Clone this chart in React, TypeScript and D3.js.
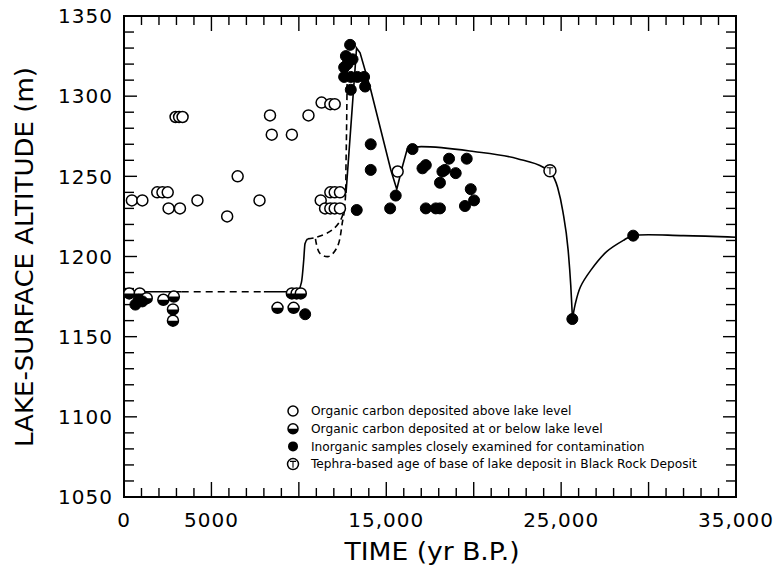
import React from "react";
import * as d3 from "d3";

// ---------- data ----------
type P = [number, number];

const openPts: P[] = [
  [450, 1235], [1050, 1235],
  [1900, 1240], [2200, 1240], [2500, 1240],
  [2550, 1230], [3200, 1230],
  [2950, 1287], [3150, 1287], [3350, 1287],
  [4200, 1235], [5900, 1225], [6500, 1250], [7750, 1235],
  [8350, 1288], [8450, 1276], [9600, 1276], [10550, 1288],
  [11300, 1296], [11800, 1295], [12050, 1295],
  [11250, 1235],
  [11800, 1240], [12050, 1240], [12350, 1240],
  [11500, 1230], [11800, 1230], [12050, 1230], [12350, 1230],
  [15650, 1253],
];

const halfPts: P[] = [
  [300, 1177], [900, 1177], [1300, 1174],
  [2250, 1173], [2850, 1175], [2800, 1167], [2800, 1160],
  [9600, 1177], [9870, 1177], [10110, 1177],
  [8780, 1168], [9700, 1168],
];

const filledPts: P[] = [
  [650, 1170], [850, 1173], [1050, 1172],
  [10360, 1164],
  [12930, 1332], [12690, 1325], [12780, 1320], [12590, 1318], [13070, 1323],
  [12590, 1312], [12970, 1312], [13350, 1312], [13730, 1312],
  [12970, 1304], [13790, 1306],
  [14110, 1270], [14110, 1254], [13310, 1229],
  [15220, 1230], [15540, 1238], [16500, 1267],
  [17070, 1255], [17260, 1257], [18590, 1261], [19600, 1261],
  [18210, 1253], [18350, 1254], [18970, 1252], [18070, 1246],
  [19830, 1242], [20020, 1235], [19500, 1231.5],
  [17260, 1230], [17830, 1230], [18070, 1230],
  [25640, 1161], [29120, 1213],
];

const tephraPts: P[] = [[24360, 1253.5]];

// lake-level curve pieces
const lineA: P[] = [[0, 1178], [3300, 1178]];
const lineB: P[] = [[3300, 1178], [8000, 1178]];
const lineC: P[] = [[8000, 1178], [9900, 1178], [10150, 1184], [10280, 1198], [10350, 1208], [10500, 1211]];
const lineD: P[] = [[10500, 1211], [11000, 1212], [11900, 1216.5], [12400, 1223], [12620, 1232], [12700, 1260], [12760, 1310]];
const lineE: P[] = [[10950, 1211], [11200, 1202], [11700, 1200], [12200, 1206], [12500, 1222], [12600, 1228]];
const lineF: P[] = [[12500, 1240], [12700, 1240], [13300, 1330], [13500, 1327], [14110, 1304], [15260, 1254], [15600, 1242], [15920, 1256], [16210, 1267.5]];
const lineG: P[] = [[16210, 1267.5], [17000, 1268.5], [20000, 1265.5], [22500, 1261], [24000, 1255.5], [24400, 1252.5], [24800, 1243], [25100, 1228], [25400, 1204], [25550, 1182], [25650, 1161]];
const lineH: P[] = [[25650, 1161], [25800, 1170], [26100, 1181], [26700, 1191.5], [27600, 1203], [28600, 1210.3], [29100, 1213], [32000, 1213], [35000, 1212]];

const xTickValues = d3.range(0, 35001, 1000);
const yTickValues = d3.range(1050, 1351, 10);
const xLabelValues = [0, 5000, 15000, 25000, 35000];
const xLabels = ["0", "5000", "15,000", "25,000", "35,000"];
const yLabelValues = [1050, 1100, 1150, 1200, 1250, 1300, 1350];

const legendItems = [
  "Organic carbon deposited above lake level",
  "Organic carbon deposited at or below lake level",
  "Inorganic samples closely examined for contamination",
  "Tephra-based age of base of lake deposit in Black Rock Deposit",
];

// ---------- layout ----------
const W = 781, H = 580;
const L = 124, R = 736, T = 16, B = 497;
const x = d3.scaleLinear().domain([0, 35000]).range([L, R]);
const y = d3.scaleLinear().domain([1050, 1350]).range([B, T]);
const RAD = 5.5;
const SW = 1.5;
const tickFont = "'DejaVu Sans', sans-serif";

function HalfCircle({ cx, cy, r }: { cx: number; cy: number; r: number }) {
  const d = `M${cx - r},${cy} A${r},${r} 0 0 0 ${cx + r},${cy} Z`;
  return (
    <g>
      <circle cx={cx} cy={cy} r={r} fill="#fff" stroke="#000" strokeWidth={SW} />
      <path d={d} fill="#000" />
    </g>
  );
}

function Tephra({ cx, cy, r }: { cx: number; cy: number; r: number }) {
  return (
    <g>
      <circle cx={cx} cy={cy} r={r} fill="#fff" stroke="#000" strokeWidth={SW} />
      <path d={`M${cx - r * 0.55},${cy - r * 0.5} H${cx + r * 0.55} M${cx},${cy - r * 0.5} V${cy + r * 0.65}`} stroke="#000" strokeWidth={1.1} fill="none" />
    </g>
  );
}

export default function App() {
  const line = d3.line<P>().x((d) => x(d[0])).y((d) => y(d[1]));
  const mono = d3.line<P>().x((d) => x(d[0])).y((d) => y(d[1])).curve(d3.curveMonotoneX);
  const smooth = d3.line<P>().x((d) => x(d[0])).y((d) => y(d[1])).curve(d3.curveCatmullRom);

  const dash = "7,5";
  const lx = 293, ltx = 311, ly0 = 411, ldy = 17.7;

  return (
    <svg width={W} height={H} style={{ position: "absolute", left: 0, top: 0, background: "#fff" }}>
      {/* frame */}
      <rect x={L} y={T} width={R - L} height={B - T} fill="none" stroke="#000" strokeWidth={2} />

      {/* ticks */}
      {xTickValues.map((v) => {
        const major = v % 5000 === 0;
        const len = major ? 15 : 9;
        return (
          <g key={"xt" + v}>
            <line x1={x(v)} x2={x(v)} y1={B} y2={B - len} stroke="#000" strokeWidth={1.4} />
            <line x1={x(v)} x2={x(v)} y1={T} y2={T + len} stroke="#000" strokeWidth={1.4} />
          </g>
        );
      })}
      {yTickValues.map((v) => {
        const major = v % 50 === 0;
        const len = major ? 13 : 10;
        return (
          <g key={"yt" + v}>
            <line x1={L} x2={L + len} y1={y(v)} y2={y(v)} stroke="#000" strokeWidth={1.4} />
            <line x1={R} x2={R - len} y1={y(v)} y2={y(v)} stroke="#000" strokeWidth={1.4} />
          </g>
        );
      })}

      {/* tick labels */}
      {yLabelValues.map((v) => (
        <text key={"yl" + v} x={113} y={y(v)} dy="0.36em" textAnchor="end" fontFamily={tickFont} fontSize={20} letterSpacing={1} fill="#000">
          {v}
        </text>
      ))}
      {xLabelValues.map((v, i) => (
        <text key={"xl" + v} x={x(v)} y={527} textAnchor="middle" fontFamily={tickFont} fontSize={20} letterSpacing={1} fill="#000">
          {xLabels[i]}
        </text>
      ))}

      {/* axis titles */}
      <text transform={`translate(33,257) rotate(-90)`} textAnchor="middle" fontFamily={tickFont} fontSize={24} textLength={380} lengthAdjust="spacingAndGlyphs" fill="#000">
        LAKE-SURFACE ALTITUDE (m)
      </text>
      <text x={432} y={560} textAnchor="middle" fontFamily={tickFont} fontSize={24} textLength={175} lengthAdjust="spacingAndGlyphs" fill="#000">
        TIME (yr B.P.)
      </text>

      {/* lake-level curves */}
      <g fill="none" stroke="#000" strokeWidth={1.6}>
        <path d={line(lineA) || ""} />
        <path d={line(lineB) || ""} strokeDasharray={dash} />
        <path d={mono(lineC) || ""} />
        <path d={smooth(lineD) || ""} strokeDasharray="6,4" />
        <path d={smooth(lineE) || ""} strokeDasharray="6,4" />
        <path d={line(lineF) || ""} />
        <path d={mono(lineG) || ""} />
        <path d={smooth(lineH) || ""} />
      </g>

      {/* points */}
      {openPts.map((d, i) => (
        <circle key={"o" + i} cx={x(d[0])} cy={y(d[1])} r={RAD} fill="#fff" stroke="#000" strokeWidth={SW} />
      ))}
      {halfPts.map((d, i) => (
        <HalfCircle key={"h" + i} cx={x(d[0])} cy={y(d[1])} r={RAD} />
      ))}
      {filledPts.map((d, i) => (
        <circle key={"f" + i} cx={x(d[0])} cy={y(d[1])} r={RAD} fill="#000" stroke="#000" strokeWidth={1} />
      ))}
      {tephraPts.map((d, i) => (
        <Tephra key={"t" + i} cx={x(d[0])} cy={y(d[1])} r={RAD + 0.5} />
      ))}

      {/* legend */}
      <circle cx={lx} cy={ly0} r={5} fill="#fff" stroke="#000" strokeWidth={SW} />
      <HalfCircle cx={lx} cy={ly0 + ldy} r={5} />
      <circle cx={lx} cy={ly0 + 2 * ldy} r={5} fill="#000" />
      <Tephra cx={lx} cy={ly0 + 3 * ldy} r={5.5} />
      {legendItems.map((t, i) => (
        <text key={"lg" + i} x={ltx} y={ly0 + i * ldy} dy="0.35em" fontFamily="'DejaVu Sans', sans-serif" fontSize={12.2} fill="#000">
          {t}
        </text>
      ))}
    </svg>
  );
}
